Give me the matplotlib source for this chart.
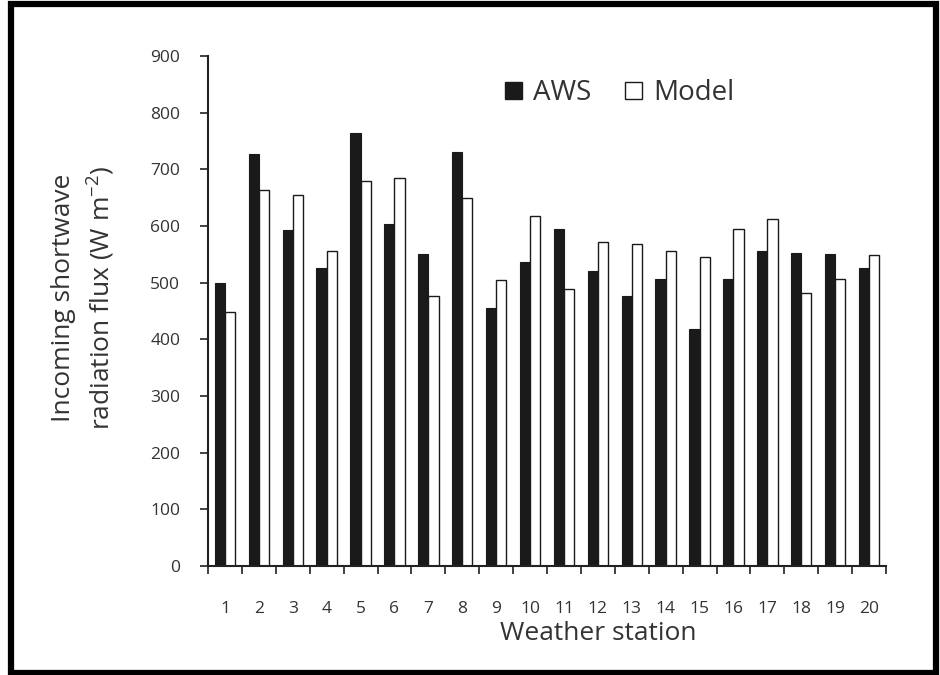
import numpy as np
import matplotlib
matplotlib.use("Agg")
import matplotlib.pyplot as plt
from matplotlib.patches import Rectangle, Patch

plt.rcParams['font.family'] = ['Open Sans', 'DejaVu Sans']

stations = [str(i) for i in range(1, 21)]
aws = [500, 727, 593, 526, 765, 603, 550, 731, 455, 536,
       595, 520, 477, 507, 418, 506, 556, 553, 550, 526]
model = [449, 664, 654, 556, 679, 684, 477, 649, 504, 617,
         488, 571, 568, 556, 545, 595, 612, 482, 506, 549]
yticks = list(range(0, 1000, 100))

text_col = '#333333'
bar_col = '#1a1a1a'

fig = plt.figure(figsize=(9.4, 6.75), dpi=100)
ax = fig.add_axes([208 / 940, 1 - 566 / 675, (886 - 208) / 940, (566 - 56) / 675])

x = np.arange(1, len(stations) + 1)
w = 0.3
ax.bar(x - w / 2, aws, width=w, color=bar_col, edgecolor=bar_col, linewidth=0.8, label='AWS')
ax.bar(x + w / 2, model, width=w, color='white', edgecolor=bar_col, linewidth=1.0, label='Model')

ax.set_xlim(0.5, len(stations) + 0.5)
ax.set_ylim(0, 900)
ax.set_yticks(yticks)
ax.set_yticklabels([str(v) for v in yticks])

# category-boundary tick marks, labels at category centres
ax.set_xticks(np.arange(0.5, len(stations) + 1, 1.0))
ax.set_xticklabels([])
ax.set_xticks(x, minor=True)
ax.set_xticklabels(stations, minor=True)
ax.tick_params(axis='x', which='major', direction='out', length=6, width=1.2, color='#222222')
ax.tick_params(axis='x', which='minor', length=0, pad=25, labelsize=12.5, labelcolor=text_col)
ax.tick_params(axis='y', direction='out', length=6, width=1.2, color='#222222',
               pad=14, labelsize=12.5, labelcolor=text_col)

for s in ['top', 'right']:
    ax.spines[s].set_visible(False)
for s in ['left', 'bottom']:
    ax.spines[s].set_linewidth(1.5)
    ax.spines[s].set_color('#222222')

fig.text(598 / 940, 1 - 633 / 675, 'Weather station', ha='center', va='center',
         fontsize=19, color=text_col)
fig.text(84 / 940, 1 - 298 / 675,
         'Incoming shortwave\nradiation flux (W m$\\mathregular{^{-2}}$)',
         ha='center', va='center', rotation=90, fontsize=19, color=text_col,
         linespacing=1.4)

handles = [Patch(facecolor=bar_col, edgecolor=bar_col, label='AWS'),
           Patch(facecolor='white', edgecolor=bar_col, label='Model')]
fig.legend(handles=handles, loc='center left', bbox_to_anchor=(505 / 940, 1 - 93 / 675),
           ncol=2, frameon=False, fontsize=20, handlelength=0.62, handleheight=0.55,
           handletextpad=0.4, columnspacing=1.2, borderpad=0, borderaxespad=0,
           labelcolor=text_col)

# outer frame
fig.add_artist(Rectangle((10.5 / 940, 2.5 / 675), 925 / 940, 669 / 675,
                         transform=fig.transFigure, fill=False,
                         edgecolor='black', linewidth=4.5))

fig.savefig('out.png', dpi=100)
